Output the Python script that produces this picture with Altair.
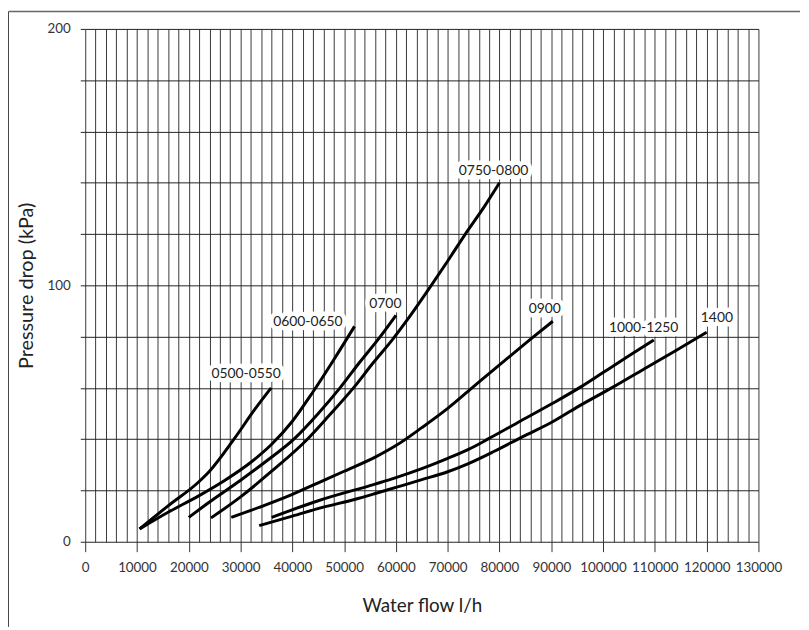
import altair as alt
import pandas as pd

# ---- data ----
s0500_flow = [10500, 16000, 21900, 24000, 28900, 32700, 35900]
s0500_dp = [5, 14, 23.3, 27.5, 40.5, 51.5, 60]

s0600_flow = [10500, 16000, 22000, 27000, 32000, 36000, 40000, 44000, 48000, 52000]
s0600_dp = [5, 11.5, 18, 24, 31, 38, 47, 58.5, 71, 84]

s0700_flow = [20000, 24000, 30000, 35000, 40300, 45000, 49200, 53000, 56600, 60000]
s0700_dp = [9.5, 15.5, 24, 31.5, 40, 50, 60, 70, 79, 88.3]

s0750_flow = [24300, 30000, 36000, 42900, 47000, 51800, 55500, 59400, 62000, 66500, 70000, 73400, 77000, 80000]
s0750_dp = [9.3, 17.5, 27.5, 40, 49, 60, 69.5, 79, 86, 99, 109.5, 120, 130.5, 140]

s0900_flow = [28200, 35000, 40000, 45000, 50000, 56000, 60000, 65000, 70000, 74700, 80000, 86000, 90300]
s0900_dp = [9.5, 14.5, 18.5, 23, 27.5, 33, 37.5, 44.5, 52, 60, 69, 79, 86]

s1000_flow = [36000, 45000, 56000, 60000, 65000, 70000, 74000, 78000, 84000, 90000, 95700, 100000, 105000, 109800]
s1000_dp = [9.5, 16, 22.5, 25, 28.5, 32.5, 36, 40.3, 47, 53.7, 60.4, 66, 72.5, 78.7]

s1400_flow = [33600, 40000, 46000, 52000, 56000, 60000, 65000, 70000, 74000, 79000, 84500, 90000, 95000, 102000, 108000, 114000, 120000]
s1400_dp = [6.3, 10, 13.5, 16.5, 18.8, 21.2, 24.2, 27.3, 30.5, 35.3, 41, 46.5, 52.5, 60.4, 67.5, 74.5, 81.7]

series_names = ["0500-0550", "0600-0650", "0700", "0750-0800", "0900", "1000-1250", "1400"]
label_flow = [31070, 43000, 57960, 78850, 88730, 107840, 121980]
label_dp = [65.4, 85.5, 92.6, 144.7, 90.6, 83.2, 87.1]

x_grid_values = list(range(0, 130001, 2000))
y_grid_values = list(range(0, 201, 20))

# ---- build tables ----
all_series = [
    (s0500_flow, s0500_dp), (s0600_flow, s0600_dp), (s0700_flow, s0700_dp),
    (s0750_flow, s0750_dp), (s0900_flow, s0900_dp), (s1000_flow, s1000_dp),
    (s1400_flow, s1400_dp),
]
rows = []
for name, (fl, dp) in zip(series_names, all_series):
    for i, (f, d) in enumerate(zip(fl, dp)):
        rows.append({"series": name, "flow": f, "dp": d, "idx": i})
df = pd.DataFrame(rows)
labels_df = pd.DataFrame({"label": series_names, "flow": label_flow, "dp": label_dp})

W, H = 680, 518
FONT = "Lato"

x_scale = alt.Scale(domain=[0, 130000], nice=False, zero=False)
y_scale = alt.Scale(domain=[0, 200], nice=False, zero=False)

x_axis = alt.Axis(
    values=x_grid_values, tickCount=500, grid=True, gridColor="#3a3a3a", gridWidth=1,
    domain=False, tickColor="#333", tickSize=10, tickWidth=1,
    tickOpacity={"condition": {"test": "datum.value % 10000 === 0", "value": 1}, "value": 0},
    labelExpr="datum.value % 10000 === 0 ? datum.label : ''",
    format="d", labelFlush=False, labelOverlap=False,
    labelFont=FONT, labelFontSize=13.5, labelColor="#333", labelPadding=9,
    title="Water flow l/h", titleFont=FONT, titleFontSize=19,
    titleFontWeight="normal", titleColor="#222", titlePadding=23,
)
y_axis = alt.Axis(
    values=y_grid_values, tickCount=500, grid=True, gridColor="#222", gridWidth=1,
    domain=False, tickColor="#222", tickSize=5, tickWidth=1,
    labelExpr="datum.value % 100 === 0 ? datum.label : ''",
    format="d", labelFlush=False, labelOverlap=False,
    labelFont=FONT, labelFontSize=13.5, labelColor="#333", labelPadding=10,
    title="Pressure drop (kPa)", titleFont=FONT, titleFontSize=20,
    titleFontWeight="normal", titleColor="#222", titlePadding=11,
)

lines = alt.Chart(df).mark_line(color="black", strokeWidth=3, interpolate="monotone").encode(
    x=alt.X("flow:Q", scale=x_scale, axis=x_axis),
    y=alt.Y("dp:Q", scale=y_scale, axis=y_axis),
    detail="series:N",
    order="idx:Q",
)

halo = alt.Chart(labels_df).mark_text(
    font=FONT, fontSize=14, color="white", stroke="white", strokeWidth=9,
    strokeJoin="round", align="center", baseline="middle",
).encode(
    x=alt.X("flow:Q", scale=x_scale),
    y=alt.Y("dp:Q", scale=y_scale),
    text="label:N",
)
texts = alt.Chart(labels_df).mark_text(
    font=FONT, fontSize=14, color="#222", align="center", baseline="middle",
).encode(
    x=alt.X("flow:Q", scale=x_scale),
    y=alt.Y("dp:Q", scale=y_scale),
    text="label:N",
)

frame_df = pd.DataFrame({"k": [0]})
frame_top = alt.Chart(frame_df).mark_rule(color="#666", strokeWidth=1.5).encode(
    x=alt.value(-77.5), x2=alt.value(722), y=alt.value(-17.5)
)
frame_left = alt.Chart(frame_df).mark_rule(color="#444", strokeWidth=1).encode(
    x=alt.value(-77.5), y=alt.value(-17.5), y2=alt.value(604)
)

chart = alt.layer(lines, halo, texts, frame_top, frame_left).properties(
    width=W, height=H,
    autosize=alt.AutoSizeParams(type="none"),
    padding={"left": 78, "top": 18, "right": 43, "bottom": 86},
    background="white",
).configure_view(stroke=None)

chart.save("out.html", embed_options={"renderer": "svg", "actions": False})
